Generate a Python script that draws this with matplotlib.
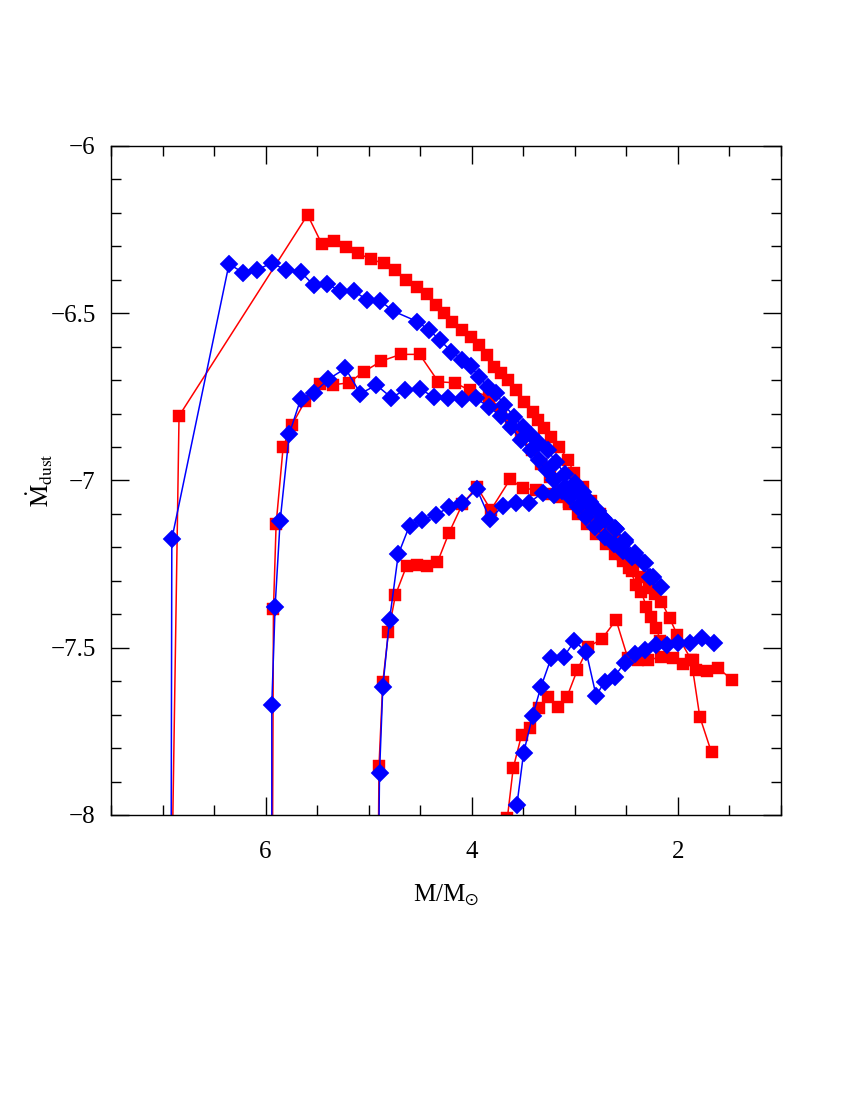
import matplotlib
matplotlib.use('Agg')
import matplotlib.pyplot as plt
from matplotlib.ticker import MultipleLocator, FixedLocator

plt.rcParams['font.family'] = ['Liberation Serif', 'DejaVu Serif']
plt.rcParams['mathtext.fontset'] = 'stix'

# track 1 (highest mass)
red1_m = [6.93, 6.84, 5.593, 5.453, 5.333, 5.219, 5.103, 4.976, 4.854, 4.746, 4.642, 4.535,
          4.431, 4.35, 4.27, 4.188, 4.09, 4.01, 3.929, 3.854, 3.783, 3.718, 3.653, 3.572,
          3.491, 3.409, 3.36, 3.296, 3.231, 3.15, 3.069, 3.004, 2.92, 2.84, 2.76, 2.68,
          2.60, 2.52, 2.44, 2.36, 2.28, 2.22, 2.16, 2.08, 2.005, 1.87, 1.788, 1.674]
red1_mdot = [-8.6, -6.807, -6.206, -6.294, -6.283, -6.301, -6.321, -6.339, -6.351, -6.371, -6.401, -6.422,
             -6.442, -6.475, -6.5, -6.525, -6.55, -6.571, -6.595, -6.625, -6.66, -6.68, -6.7, -6.729,
             -6.764, -6.794, -6.819, -6.844, -6.869, -6.899, -6.939, -6.978, -7.02, -7.06, -7.10, -7.14,
             -7.18, -7.22, -7.26, -7.29, -7.32, -7.34, -7.362, -7.412, -7.462, -7.537, -7.706, -7.813]
blue1_m = [6.92, 6.91, 6.355, 6.216, 6.08, 5.942, 5.807, 5.657, 5.535, 5.404, 5.275, 5.139,
           5.015, 4.886, 4.766, 4.528, 4.416, 4.308, 4.198, 4.09, 4.01, 3.929, 3.841, 3.766,
           3.686, 3.588, 3.507, 3.426, 3.345, 3.263, 3.18, 3.1, 3.0, 2.923, 2.85, 2.78, 2.71,
           2.6, 2.518, 2.426, 2.329, 2.24, 2.167]
blue1_mdot = [-8.6, -7.175, -6.353, -6.379, -6.371, -6.349, -6.371, -6.377, -6.416, -6.413, -6.433, -6.435,
              -6.46, -6.463, -6.493, -6.525, -6.55, -6.58, -6.615, -6.64, -6.658, -6.69, -6.721, -6.739,
              -6.774, -6.809, -6.839, -6.864, -6.889, -6.91, -6.945, -6.98, -7.007, -7.034, -7.064, -7.09, -7.118,
              -7.146, -7.183, -7.223, -7.248, -7.288, -7.318]

# track 2
red2_m = [5.94, 5.924, 5.898, 5.83, 5.745, 5.616, 5.476, 5.346, 5.194, 5.048, 4.876, 4.69,
          4.506, 4.324, 4.163, 4.017, 3.83, 3.72, 3.62, 3.52, 3.42, 3.33, 3.24, 3.15, 3.06,
          2.97, 2.88, 2.79, 2.70, 2.61, 2.53, 2.45]
red2_mdot = [-8.6, -7.385, -7.13, -6.9, -6.834, -6.762, -6.711, -6.714, -6.708, -6.675, -6.643, -6.623,
             -6.623, -6.705, -6.708, -6.731, -6.749, -6.79, -6.83, -6.87, -6.91, -6.95, -6.99, -7.03, -7.07,
             -7.10, -7.13, -7.16, -7.19, -7.22, -7.24, -7.27]
blue2_m = [5.94, 5.94, 5.908, 5.859, 5.77, 5.66, 5.53, 5.39, 5.226, 5.08, 4.925, 4.78, 4.65,
           4.503, 4.367, 4.227, 4.09, 3.96, 3.83, 3.718, 3.62, 3.52, 3.43, 3.35, 3.27, 3.2,
           3.12, 3.05, 2.97, 2.89, 2.80, 2.71, 2.62, 2.53, 2.45]
blue2_mdot = [-8.6, -7.67, -7.377, -7.12, -6.86, -6.757, -6.737, -6.697, -6.665, -6.74, -6.715, -6.752, -6.73,
              -6.727, -6.75, -6.754, -6.757, -6.754, -6.781, -6.807, -6.84, -6.88, -6.91, -6.94, -6.97, -7.0,
              -7.03, -7.05, -7.08, -7.11, -7.14, -7.17, -7.19, -7.21, -7.23]

# track 3
red3_m = [4.92, 4.90, 4.863, 4.808, 4.74, 4.633, 4.53, 4.43, 4.334, 4.22, 4.09, 3.95, 3.815,
          3.627, 3.507, 3.377, 3.25, 3.15, 3.054, 2.923, 2.777, 2.696, 2.618, 2.53, 2.472,
          2.404, 2.355, 2.307, 2.258, 2.21, 2.17]
red3_mdot = [-8.6, -7.853, -7.603, -7.452, -7.342, -7.256, -7.253, -7.256, -7.245, -7.156, -7.07, -7.019, -7.088,
             -6.996, -7.023, -7.028, -7.04, -7.05, -7.063, -7.083, -7.128, -7.157, -7.184, -7.223, -7.262,
             -7.312, -7.332, -7.377, -7.407, -7.44, -7.48]
blue3_m = [4.92, 4.895, 4.863, 4.798, 4.713, 4.604, 4.48, 4.35, 4.221, 4.09, 3.95, 3.822, 3.701,
           3.572, 3.448, 3.312, 3.199, 3.1, 3.0, 2.923, 2.825, 2.728, 2.615, 2.518, 2.42, 2.323, 2.274]
blue3_mdot = [-8.6, -7.875, -7.618, -7.417, -7.221, -7.135, -7.118, -7.103, -7.08, -7.068, -7.026, -7.116, -7.076,
              -7.068, -7.068, -7.036, -7.043, -7.019, -7.03, -7.048, -7.078, -7.113, -7.143, -7.178, -7.218, -7.248, -7.288]

# track 4 (lowest mass)
red4_m = [3.655, 3.598, 3.516, 3.435, 3.345, 3.263, 3.166, 3.075, 2.978, 2.868, 2.738, 2.60,
          2.485, 2.39, 2.29, 2.16, 2.047, 1.95, 1.852, 1.82, 1.722, 1.61, 1.477]
red4_mdot = [-8.01, -7.86, -7.76, -7.74, -7.68, -7.646, -7.676, -7.646, -7.568, -7.497, -7.474, -7.417,
             -7.532, -7.537, -7.537, -7.527, -7.53, -7.55, -7.537, -7.566, -7.57, -7.56, -7.596]
blue4_m = [3.562, 3.497, 3.41, 3.33, 3.231, 3.107, 3.004, 2.89, 2.793, 2.712, 2.615, 2.517,
           2.42, 2.323, 2.21, 2.11, 2.0, 1.885, 1.77, 1.65]
blue4_mdot = [-7.97, -7.814, -7.704, -7.618, -7.532, -7.527, -7.48, -7.512, -7.644, -7.601, -7.586, -7.545,
              -7.519, -7.507, -7.492, -7.492, -7.487, -7.487, -7.472, -7.485]

red_tracks = [(red1_m, red1_mdot), (red2_m, red2_mdot), (red3_m, red3_mdot), (red4_m, red4_mdot)]
blue_tracks = [(blue1_m, blue1_mdot), (blue2_m, blue2_mdot), (blue3_m, blue3_mdot), (blue4_m, blue4_mdot)]

fig = plt.figure(figsize=(8.5, 11), dpi=100)
ax = fig.add_axes([0.1306, 0.2591, 0.7882, 0.6082])

for m, mdot in red_tracks:
    ax.plot(m, mdot, '-', color='#ff0000', lw=1.1, marker='s', ms=8.6,
            mfc='#ff0000', mec='#ff0000', mew=0.3)
for m, mdot in blue_tracks:
    ax.plot(m, mdot, '-', color='#0000ff', lw=1.1, marker='D', ms=9.0,
            mfc='#0000ff', mec='#0000ff', mew=0.3)

ax.set_xlim(7.5, 1.0)
ax.set_ylim(-8.0, -6.0)

ax.xaxis.set_major_locator(FixedLocator([2, 4, 6]))
ax.xaxis.set_minor_locator(MultipleLocator(0.5))
ax.yaxis.set_minor_locator(MultipleLocator(0.1))
ax.set_yticks([-8, -7.5, -7, -6.5, -6])
ax.set_yticklabels(['\u22128', '\u22127.5', '\u22127', '\u22126.5', '\u22126'])
ax.set_xticklabels(['2', '4', '6'])

ax.tick_params(which='both', direction='in', top=True, right=True, width=1.0, color='black')
ax.tick_params(which='major', length=13)
ax.tick_params(which='minor', length=7)
ax.tick_params(axis='y', which='major', labelsize=18, pad=11)
ax.tick_params(axis='x', which='major', labelsize=18, pad=19)
for s in ax.spines.values():
    s.set_linewidth(1.0)

ax.set_xlabel(r'M/M$_{\odot}$', fontsize=18, labelpad=14)
ax.set_ylabel(r'$\dot{\rm M}_{\rm dust}$', fontsize=18, labelpad=-3)

fig.savefig('out.png', dpi=100)
